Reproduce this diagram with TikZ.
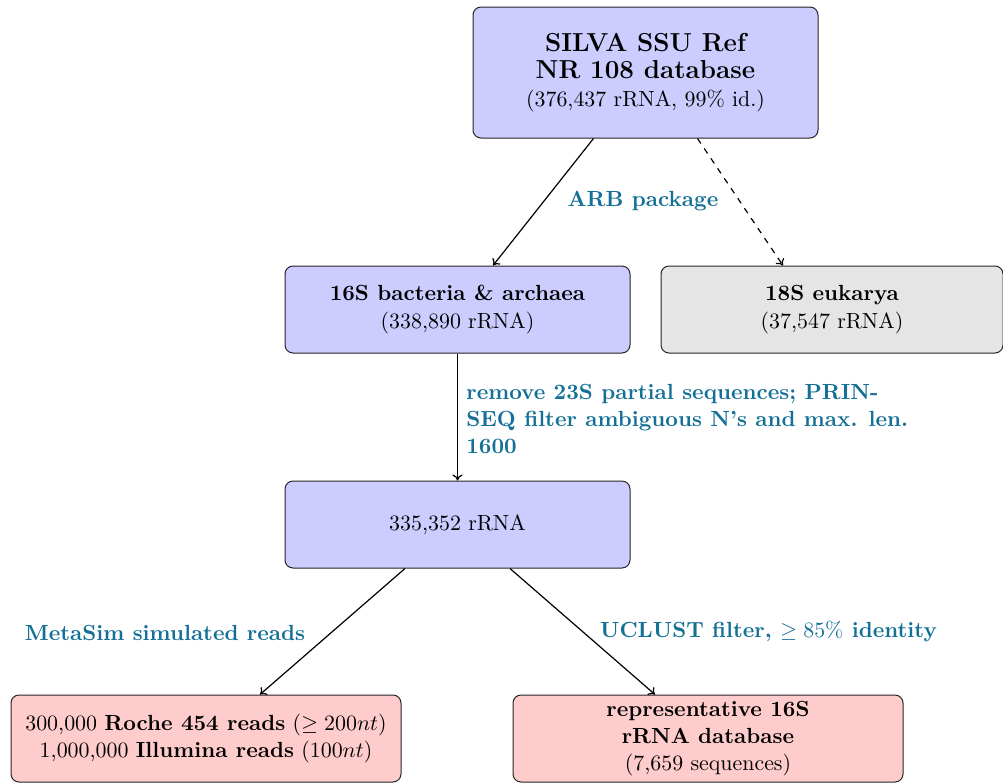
\documentclass[tikz,border=0pt]{standalone}
\usetikzlibrary{arrows.meta}
\definecolor{lblblue}{RGB}{20,112,150}
\begin{document}
\begin{tikzpicture}[x=1pt,y=1pt,
  font=\fontsize{10.95pt}{13.6pt}\selectfont,
  box/.style={draw=black!85, rounded corners=4pt, align=center, inner sep=0pt, line width=0.5pt},
  bluebox/.style={box, fill=blue!20},
  graybox/.style={box, fill=black!10},
  redbox/.style={box, fill=red!20},
  lbl/.style={text=lblblue, font=\fontsize{10.95pt}{13.6pt}\selectfont\bfseries},
  conn/.style={-{To[length=3pt,width=5pt]}, line width=0.6pt}
]
\useasboundingbox (0,0) rectangle (501.5,-391.5);
\node[bluebox, minimum width=172.5pt, minimum height=65.5pt] (top) at (322.75,-36.25)
  {{\fontsize{13pt}{13.5pt}\selectfont\bfseries SILVA SSU Ref}\\{\fontsize{13pt}{14pt}\selectfont\bfseries NR 108 database}\\(376,437 rRNA, 99\% id.)};
\node[bluebox, minimum width=172.5pt, minimum height=43.5pt] (s16) at (228.75,-154.75)
  {\textbf{16S bacteria \& archaea}\\(338,890 rRNA)};
\node[graybox, minimum width=171pt, minimum height=43.5pt] (s18) at (416,-154.75)
  {\textbf{18S eukarya}\\(37,547 rRNA)};
\node[bluebox, minimum width=172.5pt, minimum height=43.5pt] (mid) at (228.75,-262.25)
  {335,352 rRNA};
\node[redbox, minimum width=195pt, minimum height=43.5pt] (reads) at (103,-369.25)
  {300,000 \textbf{Roche 454 reads} ($\geq 200nt$)\\1,000,000 \textbf{Illumina reads} ($100nt$)};
\node[redbox, minimum width=195pt, minimum height=43.5pt] (repr) at (354,-369.25)
  {\textbf{representative 16S}\\\textbf{rRNA database}\\(7,659 sequences)};

\draw[conn] ([xshift=-26pt]top.south) -- ([xshift=17.75pt]s16.north);
\draw[conn, dashed] ([xshift=26pt]top.south) -- ([xshift=-24.5pt]s18.north);
\draw[conn] (s16.south) -- (mid.north);
\draw[conn] ([xshift=-26.25pt]mid.south) -- ([xshift=27pt]reads.north);
\draw[conn] ([xshift=26.25pt]mid.south) -- ([xshift=-26.5pt]repr.north);

\node[lbl] (l1) at (321.5,-100.5) {ARB package};
\node[lbl, anchor=west, align=left, inner sep=0pt] (l2) at (233,-209.5)
  {remove 23S partial sequences; PRIN-\\SEQ filter ambiguous N's and max. len.\\1600};
\node[lbl] (l3) at (82.5,-316.5) {MetaSim simulated reads};
\node[lbl] (l4) at (384.25,-315.5) {UCLUST filter, $\geq 85\%$ identity};
\end{tikzpicture}
\end{document}
